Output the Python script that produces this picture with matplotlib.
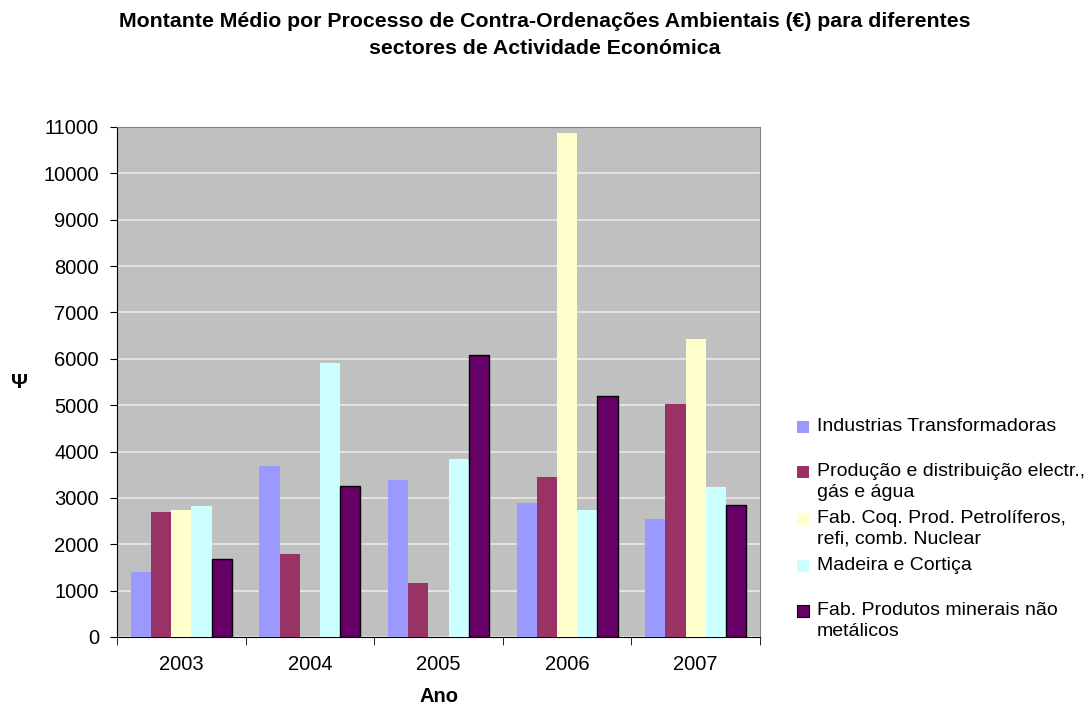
import matplotlib.pyplot as plt
import numpy as np
from matplotlib.patches import Rectangle

plt.rcParams['font.family'] = ['Liberation Sans', 'DejaVu Sans']

anos = ['2003', '2004', '2005', '2006', '2007']
sectores = ['Industrias Transformadoras',
            'Produção e distribuição electr.,\ngás e água',
            'Fab. Coq. Prod. Petrolíferos,\nrefi, comb. Nuclear',
            'Madeira e Cortiça',
            'Fab. Produtos minerais não\nmetálicos']
industrias = [1400, 3680, 3380, 2900, 2540]
producao = [2690, 1785, 1160, 3460, 5030]
fab_coq = [2750, 0, 0, 10860, 6420]
madeira = [2820, 5900, 3850, 2730, 3225]
fab_prod = [1690, 3255, 6080, 5200, 2840]
valores = [industrias, producao, fab_coq, madeira, fab_prod]
cores = ['#9999FF', '#993366', '#FFFFCC', '#CCFFFF', '#660066']

fig = plt.figure(figsize=(10.92, 7.10), dpi=100)
ax = fig.add_axes([117/1092, 1-637/710, (760-117)/1092, (637-127)/710])
ax.set_facecolor('#C0C0C0')

x = np.arange(len(anos))
w = 0.157
for i, (vals, c) in enumerate(zip(valores, cores)):
    edge = 'black' if i == 4 else 'none'
    ax.bar(x + (i - 2) * w, vals, w, color=c, edgecolor=edge, linewidth=1, zorder=3)

ax.set_xlim(-0.5, 4.5)
ax.set_ylim(0, 11000)
ax.set_yticks(range(0, 11001, 1000))
ax.yaxis.grid(True, color='#E8E8E8', linewidth=1.2, zorder=1)
ax.set_xticks(x)
ax.set_xticklabels(anos, fontsize=14.5)
ax.set_xticks(np.arange(-0.5, 5, 1), minor=True)
ax.tick_params(axis='x', which='major', length=0, pad=13)
ax.tick_params(axis='x', which='minor', length=6, direction='out', color='black')
ax.tick_params(axis='y', labelsize=14.5, length=5, direction='out', pad=8)
for s in ['top', 'right']:
    ax.spines[s].set_color('#808080')
    ax.spines[s].set_linewidth(0.8)
for s in ['left', 'bottom']:
    ax.spines[s].set_color('black')

ax.set_xlabel('Ano', fontsize=14.5, fontweight='bold', labelpad=9)
fig.text(20/1092, 1-383/710, 'Ψ', fontsize=15, fontweight='bold', ha='center', va='center')

fig.suptitle('Montante Médio por Processo de Contra-Ordenações Ambientais (€) para diferentes\n'
             'sectores de Actividade Económica',
             x=545/1092, y=1-12/710, fontsize=15.3, fontweight='bold', va='top', linespacing=1.5)

# legenda
ys = [427, 472, 519, 566, 611]
for lab, c, yy in zip(sectores, cores, ys):
    fig.patches.append(Rectangle((797/1092, 1-(yy+6)/710), 12/1092, 12/710,
                                 transform=fig.transFigure, facecolor=c,
                                 edgecolor='black' if c == '#660066' else 'none', linewidth=0.8))
    fig.text(817/1092, 1-(yy-9)/710, lab, fontsize=14, va='top', ha='left', linespacing=1.3)

fig.savefig('out.png', dpi=100)
